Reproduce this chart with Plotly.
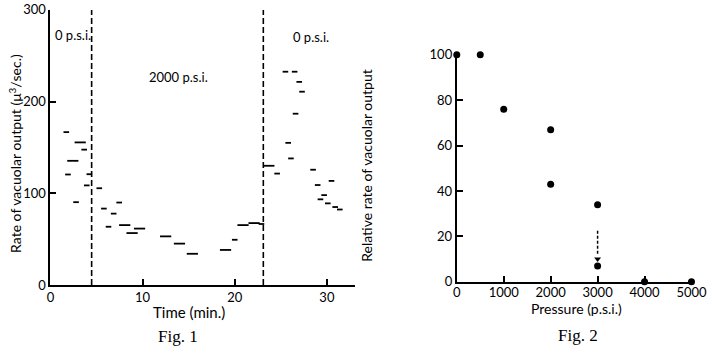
import plotly.graph_objects as go

# ---- Fig. 1 data: rate of vacuolar output vs time ----
short_t = [1.72, 3.66, 1.9, 4.22, 3.94, 5.3, 2.78, 7.46, 5.8, 6.86, 6.3, 20.0, 22.9,
           25.5, 26.5, 27.0, 27.3, 26.6, 25.8, 26.1, 24.6, 28.5, 30.5, 29.0, 29.7, 29.3, 30.1, 30.9, 31.4]
short_r = [166.7, 147.6, 120.5, 120.8, 108.6, 105.5, 90.3, 89.9, 83.3, 77.8, 63.5, 49.3, 66.5,
           232.6, 232.6, 221.5, 210.8, 186.8, 155.0, 138.0, 121.5, 125.7, 113.5, 109.0, 98.0, 93.4, 89.0, 85.0, 82.3]
long_t = [3.23, 2.43, 8.06, 8.86, 9.67, 12.5, 14.0, 15.4, 19.0, 20.9, 22.1, 23.7]
long_r = [155.5, 135.4, 65.3, 56.6, 61.5, 53.0, 45.1, 34.0, 38.2, 65.3, 67.5, 130.0]
change_times = [4.47, 23.1]
fig1_xticks = [0, 10, 20, 30]
fig1_yticks = [0, 100, 200, 300]

# ---- Fig. 2 data: relative rate vs pressure ----
pressure = [0, 500, 1000, 2000, 2000, 3000, 3000, 4000, 5000]
rel_rate = [100, 100, 76, 67, 43, 34, 7, 0, 0]
arrow_p = 3000
arrow_from, arrow_to = 22.5, 10
fig2_xticks = [0, 1000, 2000, 3000, 4000, 5000]
fig2_yticks = [0, 20, 40, 60, 80, 100]

W, H = 723, 356
FONT = "Lato"

fig = go.Figure()
fig.add_trace(go.Scatter(x=short_t, y=short_r, mode="markers", xaxis="x", yaxis="y",
                         marker=dict(symbol="line-ew", size=4, line=dict(width=1.8, color="black")),
                         cliponaxis=False, showlegend=False))
fig.add_trace(go.Scatter(x=long_t, y=long_r, mode="markers", xaxis="x", yaxis="y",
                         marker=dict(symbol="line-ew", size=8, line=dict(width=1.8, color="black")),
                         cliponaxis=False, showlegend=False))

fig.add_trace(go.Scatter(x=pressure, y=rel_rate, mode="markers", xaxis="x2", yaxis="y2",
                         marker=dict(symbol="circle", size=7, color="black"),
                         cliponaxis=False, showlegend=False))
fig.add_trace(go.Scatter(x=[arrow_p, arrow_p], y=[arrow_from, arrow_to + 1.5], mode="lines",
                         xaxis="x2", yaxis="y2", line=dict(color="black", width=1.5, dash="3px,2px"),
                         showlegend=False))
fig.add_trace(go.Scatter(x=[arrow_p], y=[arrow_to], mode="markers", xaxis="x2", yaxis="y2",
                         marker=dict(symbol="triangle-down", size=6, color="black"),
                         showlegend=False))

for t in change_times:
    fig.add_shape(type="line", xref="x", yref="y", x0=t, x1=t, y0=0, y1=305,
                  line=dict(color="black", width=1.6, dash="6px,3px"))

def px_x(p):
    return p / W

def px_y(p):
    return 1 - p / H

axis_common = dict(showgrid=False, zeroline=False, showline=True, linecolor="black", linewidth=2,
                   ticks="inside", ticklen=6, tickwidth=1.5, tickcolor="black",
                   tickfont=dict(family=FONT, size=13, color="black"))

fig.update_layout(
    width=W, height=H, margin=dict(l=0, r=0, t=0, b=0),
    paper_bgcolor="white", plot_bgcolor="white",
    xaxis=dict(domain=[px_x(47.7), px_x(360)], range=[0, 33], tickvals=fig1_xticks,
               anchor="y", ticklabelstandoff=-1, **axis_common),
    yaxis=dict(domain=[px_y(290), px_y(2)], range=[0, 300], tickvals=fig1_yticks,
               anchor="x", **axis_common),
    xaxis2=dict(domain=[px_x(465), px_x(707)], range=[0, 5020], tickvals=fig2_xticks,
                anchor="y2", ticklabelstandoff=-2, **axis_common),
    yaxis2=dict(domain=[px_y(286.7), px_y(49)], range=[0, 100], tickvals=fig2_yticks,
                anchor="x2", **axis_common),
)

C = dict(xanchor="center", yanchor="middle", showarrow=False)
ann = []
txt = dict(family=FONT, size=13, color="black")
ann.append(dict(x=2.46, y=273, xref="x", yref="y", text="0 p.s.i.", font=txt, **C))
ann.append(dict(x=13.9, y=227, xref="x", yref="y", text="2000 p.s.i.", font=txt, **C))
ann.append(dict(x=28.3, y=271, xref="x", yref="y", text="0 p.s.i.", font=txt, **C))
ann.append(dict(x=px_x(11), y=px_y(152), xref="paper", yref="paper",
                text="Rate of vacuolar output (μ<sup>3</sup>/sec.)",
                textangle=-90, font=dict(family=FONT, size=14, color="black"), **C))
ann.append(dict(x=px_x(190), y=px_y(318), xref="paper", yref="paper", text="Time (min.)",
                font=dict(family=FONT, size=15, color="black"), **C))
ann.append(dict(x=px_x(179), y=px_y(344), xref="paper", yref="paper", text="Fig. 1",
                font=dict(family="Liberation Serif", size=17, color="black"), **C))
ann.append(dict(x=px_x(372), y=px_y(165), xref="paper", yref="paper", text="Relative rate of vacuolar output",
                textangle=-90, font=dict(family=FONT, size=14, color="black"), **C))
ann.append(dict(x=px_x(588), y=px_y(315), xref="paper", yref="paper", text="Pressure (p.s.i.)",
                font=dict(family=FONT, size=14, color="black"), **C))
ann.append(dict(x=px_x(590), y=px_y(343), xref="paper", yref="paper", text="Fig. 2",
                font=dict(family="Liberation Serif", size=17, color="black"), **C))
fig.update_layout(annotations=ann)

fig.write_html("out.html")
